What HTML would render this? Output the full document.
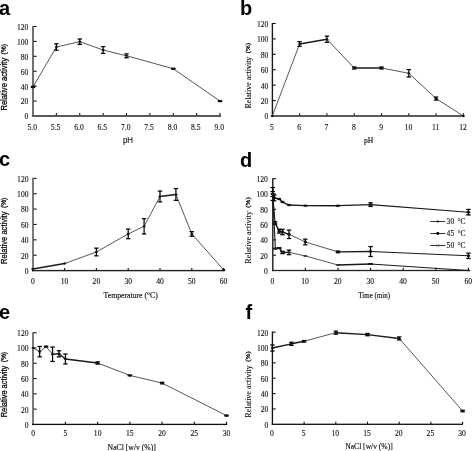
<!DOCTYPE html>
<html><head><meta charset="utf-8"><style>
html,body{margin:0;padding:0;background:#fff;}
svg{display:block;will-change:transform;}
</style></head><body>
<svg width="472" height="451" viewBox="0 0 472 451">
<rect width="472" height="451" fill="#fff"/>
<rect x="32" y="25.98" width="2" height="91.02" fill="#707070"/>
<rect x="32" y="115" width="189" height="2" fill="#5a5a5a"/>
<text x="28.3" y="119.4" font-family='"Liberation Serif", serif' font-size="7.6" font-weight="normal" text-anchor="end" fill="#111" stroke="#111" stroke-width="0.12">0</text>
<line x1="33.7" y1="101.08" x2="36.6" y2="101.08" stroke="#111" stroke-width="1.1" />
<text x="28.3" y="104.48" font-family='"Liberation Serif", serif' font-size="7.6" font-weight="normal" text-anchor="end" fill="#111" stroke="#111" stroke-width="0.12">20</text>
<line x1="33.7" y1="86.16" x2="36.6" y2="86.16" stroke="#111" stroke-width="1.1" />
<text x="28.3" y="89.56" font-family='"Liberation Serif", serif' font-size="7.6" font-weight="normal" text-anchor="end" fill="#111" stroke="#111" stroke-width="0.12">40</text>
<line x1="33.7" y1="71.24" x2="36.6" y2="71.24" stroke="#111" stroke-width="1.1" />
<text x="28.3" y="74.64" font-family='"Liberation Serif", serif' font-size="7.6" font-weight="normal" text-anchor="end" fill="#111" stroke="#111" stroke-width="0.12">60</text>
<line x1="33.7" y1="56.32" x2="36.6" y2="56.32" stroke="#111" stroke-width="1.1" />
<text x="28.3" y="59.72" font-family='"Liberation Serif", serif' font-size="7.6" font-weight="normal" text-anchor="end" fill="#111" stroke="#111" stroke-width="0.12">80</text>
<line x1="33.7" y1="41.4" x2="36.6" y2="41.4" stroke="#111" stroke-width="1.1" />
<text x="28.3" y="44.8" font-family='"Liberation Serif", serif' font-size="7.6" font-weight="normal" text-anchor="end" fill="#111" stroke="#111" stroke-width="0.12">100</text>
<line x1="33.7" y1="26.48" x2="36.6" y2="26.48" stroke="#111" stroke-width="1.1" />
<text x="28.3" y="29.88" font-family='"Liberation Serif", serif' font-size="7.6" font-weight="normal" text-anchor="end" fill="#111" stroke="#111" stroke-width="0.12">120</text>
<text x="32.2" y="129.9" font-family='"Liberation Serif", serif' font-size="7.6" font-weight="normal" text-anchor="middle" fill="#111" stroke="#111" stroke-width="0.12">5.0</text>
<line x1="56.38" y1="115.3" x2="56.38" y2="113" stroke="#111" stroke-width="1.1" />
<text x="55.58" y="129.9" font-family='"Liberation Serif", serif' font-size="7.6" font-weight="normal" text-anchor="middle" fill="#111" stroke="#111" stroke-width="0.12">5.5</text>
<line x1="79.75" y1="115.3" x2="79.75" y2="113" stroke="#111" stroke-width="1.1" />
<text x="78.95" y="129.9" font-family='"Liberation Serif", serif' font-size="7.6" font-weight="normal" text-anchor="middle" fill="#111" stroke="#111" stroke-width="0.12">6.0</text>
<line x1="103.12" y1="115.3" x2="103.12" y2="113" stroke="#111" stroke-width="1.1" />
<text x="102.33" y="129.9" font-family='"Liberation Serif", serif' font-size="7.6" font-weight="normal" text-anchor="middle" fill="#111" stroke="#111" stroke-width="0.12">6.5</text>
<line x1="126.5" y1="115.3" x2="126.5" y2="113" stroke="#111" stroke-width="1.1" />
<text x="125.7" y="129.9" font-family='"Liberation Serif", serif' font-size="7.6" font-weight="normal" text-anchor="middle" fill="#111" stroke="#111" stroke-width="0.12">7.0</text>
<line x1="149.88" y1="115.3" x2="149.88" y2="113" stroke="#111" stroke-width="1.1" />
<text x="149.07" y="129.9" font-family='"Liberation Serif", serif' font-size="7.6" font-weight="normal" text-anchor="middle" fill="#111" stroke="#111" stroke-width="0.12">7.5</text>
<line x1="173.25" y1="115.3" x2="173.25" y2="113" stroke="#111" stroke-width="1.1" />
<text x="172.45" y="129.9" font-family='"Liberation Serif", serif' font-size="7.6" font-weight="normal" text-anchor="middle" fill="#111" stroke="#111" stroke-width="0.12">8.0</text>
<line x1="196.62" y1="115.3" x2="196.62" y2="113" stroke="#111" stroke-width="1.1" />
<text x="195.82" y="129.9" font-family='"Liberation Serif", serif' font-size="7.6" font-weight="normal" text-anchor="middle" fill="#111" stroke="#111" stroke-width="0.12">8.5</text>
<line x1="220" y1="115.3" x2="220" y2="113" stroke="#111" stroke-width="1.1" />
<text x="219.2" y="129.9" font-family='"Liberation Serif", serif' font-size="7.6" font-weight="normal" text-anchor="middle" fill="#111" stroke="#111" stroke-width="0.12">9.0</text>
<line x1="33" y1="86.91" x2="56.38" y2="47" stroke="#444" stroke-width="0.9" stroke-linecap="round"/>
<line x1="56.38" y1="47" x2="79.75" y2="41.7" stroke="#444" stroke-width="0.9" stroke-linecap="round"/>
<line x1="79.75" y1="41.7" x2="103.12" y2="49.98" stroke="#444" stroke-width="0.9" stroke-linecap="round"/>
<line x1="103.12" y1="49.98" x2="126.5" y2="55.8" stroke="#444" stroke-width="0.9" stroke-linecap="round"/>
<line x1="126.5" y1="55.8" x2="173.25" y2="68.7" stroke="#444" stroke-width="0.9" stroke-linecap="round"/>
<line x1="173.25" y1="68.7" x2="220" y2="101.08" stroke="#444" stroke-width="0.9" stroke-linecap="round"/>
<line x1="33" y1="86.31" x2="33" y2="87.5" stroke="#000" stroke-width="1.25" />
<line x1="30.8" y1="86.31" x2="35.2" y2="86.31" stroke="#000" stroke-width="1.25" />
<line x1="30.8" y1="87.5" x2="35.2" y2="87.5" stroke="#000" stroke-width="1.25" />
<line x1="56.38" y1="43.79" x2="56.38" y2="50.2" stroke="#000" stroke-width="1.25" />
<line x1="54.17" y1="43.79" x2="58.58" y2="43.79" stroke="#000" stroke-width="1.25" />
<line x1="54.17" y1="50.2" x2="58.58" y2="50.2" stroke="#000" stroke-width="1.25" />
<line x1="79.75" y1="39.01" x2="79.75" y2="44.38" stroke="#000" stroke-width="1.25" />
<line x1="77.55" y1="39.01" x2="81.95" y2="39.01" stroke="#000" stroke-width="1.25" />
<line x1="77.55" y1="44.38" x2="81.95" y2="44.38" stroke="#000" stroke-width="1.25" />
<line x1="103.12" y1="46.62" x2="103.12" y2="53.34" stroke="#000" stroke-width="1.25" />
<line x1="100.92" y1="46.62" x2="105.33" y2="46.62" stroke="#000" stroke-width="1.25" />
<line x1="100.92" y1="53.34" x2="105.33" y2="53.34" stroke="#000" stroke-width="1.25" />
<line x1="126.5" y1="53.86" x2="126.5" y2="57.74" stroke="#000" stroke-width="1.25" />
<line x1="124.3" y1="53.86" x2="128.7" y2="53.86" stroke="#000" stroke-width="1.25" />
<line x1="124.3" y1="57.74" x2="128.7" y2="57.74" stroke="#000" stroke-width="1.25" />
<line x1="173.25" y1="68.33" x2="173.25" y2="69.08" stroke="#000" stroke-width="1.25" />
<line x1="171.05" y1="68.33" x2="175.45" y2="68.33" stroke="#000" stroke-width="1.25" />
<line x1="171.05" y1="69.08" x2="175.45" y2="69.08" stroke="#000" stroke-width="1.25" />
<line x1="220" y1="100.71" x2="220" y2="101.45" stroke="#000" stroke-width="1.25" />
<line x1="217.8" y1="100.71" x2="222.2" y2="100.71" stroke="#000" stroke-width="1.25" />
<line x1="217.8" y1="101.45" x2="222.2" y2="101.45" stroke="#000" stroke-width="1.25" />
<path d="M31 86.91L33 85.61L35 86.91L33 88.21Z" fill="#111"/>
<path d="M54.38 47L56.38 45.7L58.38 47L56.38 48.3Z" fill="#111"/>
<path d="M77.75 41.7L79.75 40.4L81.75 41.7L79.75 43Z" fill="#111"/>
<path d="M101.12 49.98L103.12 48.68L105.12 49.98L103.12 51.28Z" fill="#111"/>
<path d="M124.5 55.8L126.5 54.5L128.5 55.8L126.5 57.1Z" fill="#111"/>
<path d="M171.25 68.7L173.25 67.4L175.25 68.7L173.25 70Z" fill="#111"/>
<path d="M218 101.08L220 99.78L222 101.08L220 102.38Z" fill="#111"/>
<g transform="translate(6.8,0) rotate(-90)" font-family='"Liberation Sans", sans-serif' fill="#000" stroke="#000" stroke-width="0.25"><text x="-110.6" y="0" font-size="8.8" textLength="52.8" lengthAdjust="spacingAndGlyphs">Relative activity</text><text x="-54.4" y="-0.9" font-size="6.4" stroke-width="0.25" textLength="10.4" lengthAdjust="spacingAndGlyphs">(%)</text></g>
<text x="128" y="143.1" font-family='"Liberation Sans", sans-serif' font-size="9.4" font-weight="normal" text-anchor="middle" fill="#111" textLength="10" lengthAdjust="spacingAndGlyphs" stroke="#111" stroke-width="0.15">pH</text>
<text x="-1" y="14.9" font-family='"Liberation Sans", sans-serif' font-size="20" font-weight="bold" text-anchor="start" fill="#000" >a</text>
<rect x="271.7" y="22.98" width="1.4" height="93.82" fill="#1a1a1a"/>
<rect x="271.7" y="115.2" width="192.3" height="1.6" fill="#333"/>
<text x="268.3" y="119.4" font-family='"Liberation Serif", serif' font-size="7.6" font-weight="normal" text-anchor="end" fill="#111" stroke="#111" stroke-width="0.12">0</text>
<line x1="272.8" y1="100.58" x2="275.7" y2="100.58" stroke="#111" stroke-width="1.1" />
<text x="268.3" y="103.98" font-family='"Liberation Serif", serif' font-size="7.6" font-weight="normal" text-anchor="end" fill="#111" stroke="#111" stroke-width="0.12">20</text>
<line x1="272.8" y1="85.16" x2="275.7" y2="85.16" stroke="#111" stroke-width="1.1" />
<text x="268.3" y="88.56" font-family='"Liberation Serif", serif' font-size="7.6" font-weight="normal" text-anchor="end" fill="#111" stroke="#111" stroke-width="0.12">40</text>
<line x1="272.8" y1="69.74" x2="275.7" y2="69.74" stroke="#111" stroke-width="1.1" />
<text x="268.3" y="73.14" font-family='"Liberation Serif", serif' font-size="7.6" font-weight="normal" text-anchor="end" fill="#111" stroke="#111" stroke-width="0.12">60</text>
<line x1="272.8" y1="54.32" x2="275.7" y2="54.32" stroke="#111" stroke-width="1.1" />
<text x="268.3" y="57.72" font-family='"Liberation Serif", serif' font-size="7.6" font-weight="normal" text-anchor="end" fill="#111" stroke="#111" stroke-width="0.12">80</text>
<line x1="272.8" y1="38.9" x2="275.7" y2="38.9" stroke="#111" stroke-width="1.1" />
<text x="268.3" y="42.3" font-family='"Liberation Serif", serif' font-size="7.6" font-weight="normal" text-anchor="end" fill="#111" stroke="#111" stroke-width="0.12">100</text>
<line x1="272.8" y1="23.48" x2="275.7" y2="23.48" stroke="#111" stroke-width="1.1" />
<text x="268.3" y="26.88" font-family='"Liberation Serif", serif' font-size="7.6" font-weight="normal" text-anchor="end" fill="#111" stroke="#111" stroke-width="0.12">120</text>
<text x="271.9" y="129.6" font-family='"Liberation Serif", serif' font-size="7.6" font-weight="normal" text-anchor="middle" fill="#111" stroke="#111" stroke-width="0.12">5</text>
<line x1="299.6" y1="115.5" x2="299.6" y2="113.2" stroke="#111" stroke-width="1.1" />
<text x="299.2" y="129.6" font-family='"Liberation Serif", serif' font-size="7.6" font-weight="normal" text-anchor="middle" fill="#111" stroke="#111" stroke-width="0.12">6</text>
<line x1="326.9" y1="115.5" x2="326.9" y2="113.2" stroke="#111" stroke-width="1.1" />
<text x="326.5" y="129.6" font-family='"Liberation Serif", serif' font-size="7.6" font-weight="normal" text-anchor="middle" fill="#111" stroke="#111" stroke-width="0.12">7</text>
<line x1="354.2" y1="115.5" x2="354.2" y2="113.2" stroke="#111" stroke-width="1.1" />
<text x="353.8" y="129.6" font-family='"Liberation Serif", serif' font-size="7.6" font-weight="normal" text-anchor="middle" fill="#111" stroke="#111" stroke-width="0.12">8</text>
<line x1="381.5" y1="115.5" x2="381.5" y2="113.2" stroke="#111" stroke-width="1.1" />
<text x="381.1" y="129.6" font-family='"Liberation Serif", serif' font-size="7.6" font-weight="normal" text-anchor="middle" fill="#111" stroke="#111" stroke-width="0.12">9</text>
<line x1="408.8" y1="115.5" x2="408.8" y2="113.2" stroke="#111" stroke-width="1.1" />
<text x="408.4" y="129.6" font-family='"Liberation Serif", serif' font-size="7.6" font-weight="normal" text-anchor="middle" fill="#111" stroke="#111" stroke-width="0.12">10</text>
<line x1="436.1" y1="115.5" x2="436.1" y2="113.2" stroke="#111" stroke-width="1.1" />
<text x="435.7" y="129.6" font-family='"Liberation Serif", serif' font-size="7.6" font-weight="normal" text-anchor="middle" fill="#111" stroke="#111" stroke-width="0.12">11</text>
<line x1="463.4" y1="115.5" x2="463.4" y2="113.2" stroke="#111" stroke-width="1.1" />
<text x="463" y="129.6" font-family='"Liberation Serif", serif' font-size="7.6" font-weight="normal" text-anchor="middle" fill="#111" stroke="#111" stroke-width="0.12">12</text>
<line x1="272.3" y1="116" x2="299.6" y2="43.99" stroke="#444" stroke-width="0.9" stroke-linecap="round"/>
<line x1="299.6" y1="43.99" x2="326.9" y2="39.21" stroke="#1a1a1a" stroke-width="1.4" stroke-linecap="round"/>
<line x1="326.9" y1="39.21" x2="354.2" y2="67.97" stroke="#444" stroke-width="0.9" stroke-linecap="round"/>
<line x1="354.2" y1="67.97" x2="381.5" y2="67.97" stroke="#1a1a1a" stroke-width="1.4" stroke-linecap="round"/>
<line x1="381.5" y1="67.97" x2="408.8" y2="73.29" stroke="#444" stroke-width="0.9" stroke-linecap="round"/>
<line x1="408.8" y1="73.29" x2="436.1" y2="98.58" stroke="#444" stroke-width="0.9" stroke-linecap="round"/>
<line x1="436.1" y1="98.58" x2="463.4" y2="116" stroke="#444" stroke-width="0.9" stroke-linecap="round"/>
<line x1="299.6" y1="41.68" x2="299.6" y2="46.3" stroke="#000" stroke-width="1.25" />
<line x1="297.4" y1="41.68" x2="301.8" y2="41.68" stroke="#000" stroke-width="1.25" />
<line x1="297.4" y1="46.3" x2="301.8" y2="46.3" stroke="#000" stroke-width="1.25" />
<line x1="326.9" y1="36.12" x2="326.9" y2="42.29" stroke="#000" stroke-width="1.25" />
<line x1="324.7" y1="36.12" x2="329.1" y2="36.12" stroke="#000" stroke-width="1.25" />
<line x1="324.7" y1="42.29" x2="329.1" y2="42.29" stroke="#000" stroke-width="1.25" />
<line x1="354.2" y1="66.96" x2="354.2" y2="68.97" stroke="#000" stroke-width="1.25" />
<line x1="352" y1="66.96" x2="356.4" y2="66.96" stroke="#000" stroke-width="1.25" />
<line x1="352" y1="68.97" x2="356.4" y2="68.97" stroke="#000" stroke-width="1.25" />
<line x1="381.5" y1="66.96" x2="381.5" y2="68.97" stroke="#000" stroke-width="1.25" />
<line x1="379.3" y1="66.96" x2="383.7" y2="66.96" stroke="#000" stroke-width="1.25" />
<line x1="379.3" y1="68.97" x2="383.7" y2="68.97" stroke="#000" stroke-width="1.25" />
<line x1="408.8" y1="69.59" x2="408.8" y2="76.99" stroke="#000" stroke-width="1.25" />
<line x1="406.6" y1="69.59" x2="411" y2="69.59" stroke="#000" stroke-width="1.25" />
<line x1="406.6" y1="76.99" x2="411" y2="76.99" stroke="#000" stroke-width="1.25" />
<line x1="436.1" y1="97.03" x2="436.1" y2="100.12" stroke="#000" stroke-width="1.25" />
<line x1="433.9" y1="97.03" x2="438.3" y2="97.03" stroke="#000" stroke-width="1.25" />
<line x1="433.9" y1="100.12" x2="438.3" y2="100.12" stroke="#000" stroke-width="1.25" />
<path d="M270.3 116L272.3 114.7L274.3 116L272.3 117.3Z" fill="#111"/>
<path d="M297.6 43.99L299.6 42.69L301.6 43.99L299.6 45.29Z" fill="#111"/>
<path d="M324.9 39.21L326.9 37.91L328.9 39.21L326.9 40.51Z" fill="#111"/>
<path d="M352.2 67.97L354.2 66.67L356.2 67.97L354.2 69.27Z" fill="#111"/>
<path d="M379.5 67.97L381.5 66.67L383.5 67.97L381.5 69.27Z" fill="#111"/>
<path d="M406.8 73.29L408.8 71.99L410.8 73.29L408.8 74.59Z" fill="#111"/>
<path d="M434.1 98.58L436.1 97.28L438.1 98.58L436.1 99.88Z" fill="#111"/>
<path d="M461.4 116L463.4 114.7L465.4 116L463.4 117.3Z" fill="#111"/>
<g transform="translate(250.8,0) rotate(-90)" font-family='"Liberation Serif", serif' fill="#000" stroke="#000" stroke-width="0.05"><text x="-108.6" y="0" font-size="7.6" textLength="51.9" lengthAdjust="spacingAndGlyphs">Relative activity</text><text x="-53.3" y="-0.9" font-size="6.4" stroke-width="0.25" textLength="10.4" lengthAdjust="spacingAndGlyphs">(%)</text></g>
<text x="368.65" y="143.3" font-family='"Liberation Serif", serif' font-size="8" font-weight="normal" text-anchor="middle" fill="#111" textLength="9.3" lengthAdjust="spacingAndGlyphs" stroke="#111" stroke-width="0.15">pH</text>
<text x="240" y="14.6" font-family='"Liberation Sans", sans-serif' font-size="20" font-weight="bold" text-anchor="start" fill="#000" >b</text>
<rect x="32" y="177.82" width="2" height="93.48" fill="#7a7a7a"/>
<rect x="32" y="269.9" width="193" height="1.4" fill="#222"/>
<text x="28.5" y="274" font-family='"Liberation Serif", serif' font-size="7.6" font-weight="normal" text-anchor="end" fill="#111" stroke="#111" stroke-width="0.12">0</text>
<line x1="33.7" y1="255.22" x2="36.6" y2="255.22" stroke="#111" stroke-width="1.1" />
<text x="28.5" y="258.62" font-family='"Liberation Serif", serif' font-size="7.6" font-weight="normal" text-anchor="end" fill="#111" stroke="#111" stroke-width="0.12">20</text>
<line x1="33.7" y1="239.84" x2="36.6" y2="239.84" stroke="#111" stroke-width="1.1" />
<text x="28.5" y="243.24" font-family='"Liberation Serif", serif' font-size="7.6" font-weight="normal" text-anchor="end" fill="#111" stroke="#111" stroke-width="0.12">40</text>
<line x1="33.7" y1="224.46" x2="36.6" y2="224.46" stroke="#111" stroke-width="1.1" />
<text x="28.5" y="227.86" font-family='"Liberation Serif", serif' font-size="7.6" font-weight="normal" text-anchor="end" fill="#111" stroke="#111" stroke-width="0.12">60</text>
<line x1="33.7" y1="209.08" x2="36.6" y2="209.08" stroke="#111" stroke-width="1.1" />
<text x="28.5" y="212.48" font-family='"Liberation Serif", serif' font-size="7.6" font-weight="normal" text-anchor="end" fill="#111" stroke="#111" stroke-width="0.12">80</text>
<line x1="33.7" y1="193.7" x2="36.6" y2="193.7" stroke="#111" stroke-width="1.1" />
<text x="28.5" y="197.1" font-family='"Liberation Serif", serif' font-size="7.6" font-weight="normal" text-anchor="end" fill="#111" stroke="#111" stroke-width="0.12">100</text>
<line x1="33.7" y1="178.32" x2="36.6" y2="178.32" stroke="#111" stroke-width="1.1" />
<text x="28.5" y="181.72" font-family='"Liberation Serif", serif' font-size="7.6" font-weight="normal" text-anchor="end" fill="#111" stroke="#111" stroke-width="0.12">120</text>
<text x="32.8" y="284.2" font-family='"Liberation Serif", serif' font-size="7.6" font-weight="normal" text-anchor="middle" fill="#111" stroke="#111" stroke-width="0.12">0</text>
<line x1="64.6" y1="270.2" x2="64.6" y2="267.9" stroke="#111" stroke-width="1.1" />
<text x="64.6" y="284.2" font-family='"Liberation Serif", serif' font-size="7.6" font-weight="normal" text-anchor="middle" fill="#111" stroke="#111" stroke-width="0.12">10</text>
<line x1="96.4" y1="270.2" x2="96.4" y2="267.9" stroke="#111" stroke-width="1.1" />
<text x="96.4" y="284.2" font-family='"Liberation Serif", serif' font-size="7.6" font-weight="normal" text-anchor="middle" fill="#111" stroke="#111" stroke-width="0.12">20</text>
<line x1="128.2" y1="270.2" x2="128.2" y2="267.9" stroke="#111" stroke-width="1.1" />
<text x="128.2" y="284.2" font-family='"Liberation Serif", serif' font-size="7.6" font-weight="normal" text-anchor="middle" fill="#111" stroke="#111" stroke-width="0.12">30</text>
<line x1="160" y1="270.2" x2="160" y2="267.9" stroke="#111" stroke-width="1.1" />
<text x="160" y="284.2" font-family='"Liberation Serif", serif' font-size="7.6" font-weight="normal" text-anchor="middle" fill="#111" stroke="#111" stroke-width="0.12">40</text>
<line x1="191.8" y1="270.2" x2="191.8" y2="267.9" stroke="#111" stroke-width="1.1" />
<text x="191.8" y="284.2" font-family='"Liberation Serif", serif' font-size="7.6" font-weight="normal" text-anchor="middle" fill="#111" stroke="#111" stroke-width="0.12">50</text>
<line x1="223.6" y1="270.2" x2="223.6" y2="267.9" stroke="#111" stroke-width="1.1" />
<text x="223.6" y="284.2" font-family='"Liberation Serif", serif' font-size="7.6" font-weight="normal" text-anchor="middle" fill="#111" stroke="#111" stroke-width="0.12">60</text>
<line x1="32.8" y1="269.06" x2="64.6" y2="263.53" stroke="#1a1a1a" stroke-width="1.4" stroke-linecap="round"/>
<line x1="64.6" y1="263.53" x2="96.4" y2="251.99" stroke="#444" stroke-width="0.9" stroke-linecap="round"/>
<line x1="96.4" y1="251.99" x2="128.2" y2="233.92" stroke="#444" stroke-width="0.9" stroke-linecap="round"/>
<line x1="128.2" y1="233.92" x2="144.1" y2="226.31" stroke="#444" stroke-width="0.9" stroke-linecap="round"/>
<line x1="144.1" y1="226.31" x2="160" y2="196.47" stroke="#444" stroke-width="0.9" stroke-linecap="round"/>
<line x1="160" y1="196.47" x2="175.9" y2="194.47" stroke="#1a1a1a" stroke-width="1.4" stroke-linecap="round"/>
<line x1="175.9" y1="194.47" x2="191.8" y2="233.92" stroke="#444" stroke-width="0.9" stroke-linecap="round"/>
<line x1="191.8" y1="233.92" x2="223.6" y2="269.83" stroke="#444" stroke-width="0.9" stroke-linecap="round"/>
<line x1="96.4" y1="248.15" x2="96.4" y2="255.84" stroke="#000" stroke-width="1.25" />
<line x1="94.2" y1="248.15" x2="98.6" y2="248.15" stroke="#000" stroke-width="1.25" />
<line x1="94.2" y1="255.84" x2="98.6" y2="255.84" stroke="#000" stroke-width="1.25" />
<line x1="128.2" y1="229.15" x2="128.2" y2="238.69" stroke="#000" stroke-width="1.25" />
<line x1="126" y1="229.15" x2="130.4" y2="229.15" stroke="#000" stroke-width="1.25" />
<line x1="126" y1="238.69" x2="130.4" y2="238.69" stroke="#000" stroke-width="1.25" />
<line x1="144.1" y1="218.62" x2="144.1" y2="234" stroke="#000" stroke-width="1.25" />
<line x1="141.9" y1="218.62" x2="146.3" y2="218.62" stroke="#000" stroke-width="1.25" />
<line x1="141.9" y1="234" x2="146.3" y2="234" stroke="#000" stroke-width="1.25" />
<line x1="160" y1="191.09" x2="160" y2="201.85" stroke="#000" stroke-width="1.25" />
<line x1="157.8" y1="191.09" x2="162.2" y2="191.09" stroke="#000" stroke-width="1.25" />
<line x1="157.8" y1="201.85" x2="162.2" y2="201.85" stroke="#000" stroke-width="1.25" />
<line x1="175.9" y1="188.55" x2="175.9" y2="200.39" stroke="#000" stroke-width="1.25" />
<line x1="173.7" y1="188.55" x2="178.1" y2="188.55" stroke="#000" stroke-width="1.25" />
<line x1="173.7" y1="200.39" x2="178.1" y2="200.39" stroke="#000" stroke-width="1.25" />
<line x1="191.8" y1="231.61" x2="191.8" y2="236.23" stroke="#000" stroke-width="1.25" />
<line x1="189.6" y1="231.61" x2="194" y2="231.61" stroke="#000" stroke-width="1.25" />
<line x1="189.6" y1="236.23" x2="194" y2="236.23" stroke="#000" stroke-width="1.25" />
<path d="M30.8 269.06L32.8 267.76L34.8 269.06L32.8 270.36Z" fill="#111"/>
<path d="M62.6 263.53L64.6 262.23L66.6 263.53L64.6 264.83Z" fill="#111"/>
<path d="M94.4 251.99L96.4 250.69L98.4 251.99L96.4 253.29Z" fill="#111"/>
<path d="M126.2 233.92L128.2 232.62L130.2 233.92L128.2 235.22Z" fill="#111"/>
<path d="M142.1 226.31L144.1 225.01L146.1 226.31L144.1 227.61Z" fill="#111"/>
<path d="M158 196.47L160 195.17L162 196.47L160 197.77Z" fill="#111"/>
<path d="M173.9 194.47L175.9 193.17L177.9 194.47L175.9 195.77Z" fill="#111"/>
<path d="M189.8 233.92L191.8 232.62L193.8 233.92L191.8 235.22Z" fill="#111"/>
<path d="M221.6 269.83L223.6 268.53L225.6 269.83L223.6 271.13Z" fill="#111"/>
<g transform="translate(6.8,0) rotate(-90)" font-family='"Liberation Sans", sans-serif' fill="#000" stroke="#000" stroke-width="0.25"><text x="-264" y="0" font-size="8.8" textLength="52.5" lengthAdjust="spacingAndGlyphs">Relative activity</text><text x="-208.1" y="-0.9" font-size="6.4" stroke-width="0.25" textLength="10.4" lengthAdjust="spacingAndGlyphs">(%)</text></g>
<text x="130.7" y="298.3" font-family='"Liberation Serif", serif' font-size="8" font-weight="normal" text-anchor="middle" fill="#111" textLength="54.2" lengthAdjust="spacingAndGlyphs" stroke="#111" stroke-width="0.15">Temperature (°C)</text>
<text x="-1" y="166.4" font-family='"Liberation Sans", sans-serif' font-size="20" font-weight="bold" text-anchor="start" fill="#000" >c</text>
<rect x="272.1" y="178.2" width="1.4" height="92.95" fill="#1a1a1a"/>
<rect x="272.1" y="269.85" width="196.9" height="1.3" fill="#222"/>
<text x="267.9" y="273.9" font-family='"Liberation Serif", serif' font-size="7.6" font-weight="normal" text-anchor="end" fill="#111" stroke="#111" stroke-width="0.12">0</text>
<line x1="273.2" y1="255.2" x2="276.1" y2="255.2" stroke="#111" stroke-width="1.1" />
<text x="267.9" y="258.6" font-family='"Liberation Serif", serif' font-size="7.6" font-weight="normal" text-anchor="end" fill="#111" stroke="#111" stroke-width="0.12">20</text>
<line x1="273.2" y1="239.9" x2="276.1" y2="239.9" stroke="#111" stroke-width="1.1" />
<text x="267.9" y="243.3" font-family='"Liberation Serif", serif' font-size="7.6" font-weight="normal" text-anchor="end" fill="#111" stroke="#111" stroke-width="0.12">40</text>
<line x1="273.2" y1="224.6" x2="276.1" y2="224.6" stroke="#111" stroke-width="1.1" />
<text x="267.9" y="228" font-family='"Liberation Serif", serif' font-size="7.6" font-weight="normal" text-anchor="end" fill="#111" stroke="#111" stroke-width="0.12">60</text>
<line x1="273.2" y1="209.3" x2="276.1" y2="209.3" stroke="#111" stroke-width="1.1" />
<text x="267.9" y="212.7" font-family='"Liberation Serif", serif' font-size="7.6" font-weight="normal" text-anchor="end" fill="#111" stroke="#111" stroke-width="0.12">80</text>
<line x1="273.2" y1="194" x2="276.1" y2="194" stroke="#111" stroke-width="1.1" />
<text x="267.9" y="197.4" font-family='"Liberation Serif", serif' font-size="7.6" font-weight="normal" text-anchor="end" fill="#111" stroke="#111" stroke-width="0.12">100</text>
<line x1="273.2" y1="178.7" x2="276.1" y2="178.7" stroke="#111" stroke-width="1.1" />
<text x="267.9" y="182.1" font-family='"Liberation Serif", serif' font-size="7.6" font-weight="normal" text-anchor="end" fill="#111" stroke="#111" stroke-width="0.12">120</text>
<text x="272.5" y="284" font-family='"Liberation Serif", serif' font-size="7.6" font-weight="normal" text-anchor="middle" fill="#111" stroke="#111" stroke-width="0.12">0</text>
<line x1="305.32" y1="270.15" x2="305.32" y2="267.85" stroke="#111" stroke-width="1.1" />
<text x="305.12" y="284" font-family='"Liberation Serif", serif' font-size="7.6" font-weight="normal" text-anchor="middle" fill="#111" stroke="#111" stroke-width="0.12">10</text>
<line x1="337.94" y1="270.15" x2="337.94" y2="267.85" stroke="#111" stroke-width="1.1" />
<text x="337.74" y="284" font-family='"Liberation Serif", serif' font-size="7.6" font-weight="normal" text-anchor="middle" fill="#111" stroke="#111" stroke-width="0.12">20</text>
<line x1="370.56" y1="270.15" x2="370.56" y2="267.85" stroke="#111" stroke-width="1.1" />
<text x="370.36" y="284" font-family='"Liberation Serif", serif' font-size="7.6" font-weight="normal" text-anchor="middle" fill="#111" stroke="#111" stroke-width="0.12">30</text>
<line x1="403.18" y1="270.15" x2="403.18" y2="267.85" stroke="#111" stroke-width="1.1" />
<text x="402.98" y="284" font-family='"Liberation Serif", serif' font-size="7.6" font-weight="normal" text-anchor="middle" fill="#111" stroke="#111" stroke-width="0.12">40</text>
<line x1="435.8" y1="270.15" x2="435.8" y2="267.85" stroke="#111" stroke-width="1.1" />
<text x="435.6" y="284" font-family='"Liberation Serif", serif' font-size="7.6" font-weight="normal" text-anchor="middle" fill="#111" stroke="#111" stroke-width="0.12">50</text>
<line x1="468.42" y1="270.15" x2="468.42" y2="267.85" stroke="#111" stroke-width="1.1" />
<text x="468.22" y="284" font-family='"Liberation Serif", serif' font-size="7.6" font-weight="normal" text-anchor="middle" fill="#111" stroke="#111" stroke-width="0.12">60</text>
<line x1="272.7" y1="194" x2="274.17" y2="197.98" stroke="#444" stroke-width="0.9" stroke-linecap="round"/>
<line x1="274.17" y1="197.98" x2="279.22" y2="198.97" stroke="#1a1a1a" stroke-width="1.4" stroke-linecap="round"/>
<line x1="279.22" y1="198.97" x2="282.49" y2="202.03" stroke="#1a1a1a" stroke-width="1.4" stroke-linecap="round"/>
<line x1="282.49" y1="202.03" x2="289.01" y2="205.02" stroke="#1a1a1a" stroke-width="1.4" stroke-linecap="round"/>
<line x1="289.01" y1="205.02" x2="305.32" y2="205.63" stroke="#1a1a1a" stroke-width="1.4" stroke-linecap="round"/>
<line x1="305.32" y1="205.63" x2="337.94" y2="205.7" stroke="#1a1a1a" stroke-width="1.4" stroke-linecap="round"/>
<line x1="337.94" y1="205.7" x2="370.56" y2="204.63" stroke="#1a1a1a" stroke-width="1.3" stroke-linecap="round"/>
<line x1="370.56" y1="204.63" x2="468.42" y2="212.21" stroke="#1a1a1a" stroke-width="1.1" stroke-linecap="round"/>
<line x1="272.7" y1="187.57" x2="272.7" y2="200.43" stroke="#000" stroke-width="1.25" />
<line x1="270.5" y1="187.57" x2="274.9" y2="187.57" stroke="#000" stroke-width="1.25" />
<line x1="270.5" y1="200.43" x2="274.9" y2="200.43" stroke="#000" stroke-width="1.25" />
<line x1="274.17" y1="195.15" x2="274.17" y2="200.81" stroke="#000" stroke-width="1.25" />
<line x1="271.97" y1="195.15" x2="276.37" y2="195.15" stroke="#000" stroke-width="1.25" />
<line x1="271.97" y1="200.81" x2="276.37" y2="200.81" stroke="#000" stroke-width="1.25" />
<line x1="370.56" y1="202.8" x2="370.56" y2="206.47" stroke="#000" stroke-width="1.25" />
<line x1="368.36" y1="202.8" x2="372.76" y2="202.8" stroke="#000" stroke-width="1.25" />
<line x1="368.36" y1="206.47" x2="372.76" y2="206.47" stroke="#000" stroke-width="1.25" />
<line x1="468.42" y1="209.45" x2="468.42" y2="214.96" stroke="#000" stroke-width="1.25" />
<line x1="466.22" y1="209.45" x2="470.62" y2="209.45" stroke="#000" stroke-width="1.25" />
<line x1="466.22" y1="214.96" x2="470.62" y2="214.96" stroke="#000" stroke-width="1.25" />
<ellipse cx="272.7" cy="194" rx="2.1" ry="1.2" fill="#111"/>
<ellipse cx="274.17" cy="197.98" rx="2.1" ry="1.2" fill="#111"/>
<ellipse cx="279.22" cy="198.97" rx="2.1" ry="1.2" fill="#111"/>
<ellipse cx="282.49" cy="202.03" rx="2.1" ry="1.2" fill="#111"/>
<ellipse cx="289.01" cy="205.02" rx="2.1" ry="1.2" fill="#111"/>
<ellipse cx="305.32" cy="205.63" rx="2.1" ry="1.2" fill="#111"/>
<ellipse cx="337.94" cy="205.7" rx="2.1" ry="1.2" fill="#111"/>
<ellipse cx="370.56" cy="204.63" rx="2.1" ry="1.2" fill="#111"/>
<ellipse cx="468.42" cy="212.21" rx="2.1" ry="1.2" fill="#111"/>
<line x1="272.7" y1="194" x2="275.05" y2="222.92" stroke="#1a1a1a" stroke-width="1.1" stroke-linecap="round"/>
<line x1="275.05" y1="222.92" x2="279.22" y2="231.18" stroke="#1a1a1a" stroke-width="1.4" stroke-linecap="round"/>
<line x1="279.22" y1="231.18" x2="282.49" y2="232.02" stroke="#1a1a1a" stroke-width="1.4" stroke-linecap="round"/>
<line x1="282.49" y1="232.02" x2="289.01" y2="234.32" stroke="#1a1a1a" stroke-width="1.4" stroke-linecap="round"/>
<line x1="289.01" y1="234.32" x2="305.32" y2="241.97" stroke="#444" stroke-width="0.9" stroke-linecap="round"/>
<line x1="305.32" y1="241.97" x2="337.94" y2="251.91" stroke="#444" stroke-width="0.9" stroke-linecap="round"/>
<line x1="337.94" y1="251.91" x2="370.56" y2="251.53" stroke="#1a1a1a" stroke-width="1.4" stroke-linecap="round"/>
<line x1="370.56" y1="251.53" x2="468.42" y2="255.81" stroke="#1a1a1a" stroke-width="1.1" stroke-linecap="round"/>
<line x1="272.7" y1="191.48" x2="272.7" y2="196.52" stroke="#000" stroke-width="1.25" />
<line x1="270.5" y1="191.48" x2="274.9" y2="191.48" stroke="#000" stroke-width="1.25" />
<line x1="270.5" y1="196.52" x2="274.9" y2="196.52" stroke="#000" stroke-width="1.25" />
<line x1="275.05" y1="221.77" x2="275.05" y2="224.06" stroke="#000" stroke-width="1.25" />
<line x1="272.85" y1="221.77" x2="277.25" y2="221.77" stroke="#000" stroke-width="1.25" />
<line x1="272.85" y1="224.06" x2="277.25" y2="224.06" stroke="#000" stroke-width="1.25" />
<line x1="279.22" y1="229.27" x2="279.22" y2="233.09" stroke="#000" stroke-width="1.25" />
<line x1="277.02" y1="229.27" x2="281.42" y2="229.27" stroke="#000" stroke-width="1.25" />
<line x1="277.02" y1="233.09" x2="281.42" y2="233.09" stroke="#000" stroke-width="1.25" />
<line x1="282.49" y1="229.34" x2="282.49" y2="234.7" stroke="#000" stroke-width="1.25" />
<line x1="280.29" y1="229.34" x2="284.69" y2="229.34" stroke="#000" stroke-width="1.25" />
<line x1="280.29" y1="234.7" x2="284.69" y2="234.7" stroke="#000" stroke-width="1.25" />
<line x1="289.01" y1="230.11" x2="289.01" y2="238.52" stroke="#000" stroke-width="1.25" />
<line x1="286.81" y1="230.11" x2="291.21" y2="230.11" stroke="#000" stroke-width="1.25" />
<line x1="286.81" y1="238.52" x2="291.21" y2="238.52" stroke="#000" stroke-width="1.25" />
<line x1="305.32" y1="239.13" x2="305.32" y2="244.8" stroke="#000" stroke-width="1.25" />
<line x1="303.12" y1="239.13" x2="307.52" y2="239.13" stroke="#000" stroke-width="1.25" />
<line x1="303.12" y1="244.8" x2="307.52" y2="244.8" stroke="#000" stroke-width="1.25" />
<line x1="337.94" y1="251.15" x2="337.94" y2="252.68" stroke="#000" stroke-width="1.25" />
<line x1="335.74" y1="251.15" x2="340.14" y2="251.15" stroke="#000" stroke-width="1.25" />
<line x1="335.74" y1="252.68" x2="340.14" y2="252.68" stroke="#000" stroke-width="1.25" />
<line x1="370.56" y1="246.56" x2="370.56" y2="256.5" stroke="#000" stroke-width="1.25" />
<line x1="368.36" y1="246.56" x2="372.76" y2="246.56" stroke="#000" stroke-width="1.25" />
<line x1="368.36" y1="256.5" x2="372.76" y2="256.5" stroke="#000" stroke-width="1.25" />
<line x1="468.42" y1="253.13" x2="468.42" y2="258.49" stroke="#000" stroke-width="1.25" />
<line x1="466.22" y1="253.13" x2="470.62" y2="253.13" stroke="#000" stroke-width="1.25" />
<line x1="466.22" y1="258.49" x2="470.62" y2="258.49" stroke="#000" stroke-width="1.25" />
<ellipse cx="272.7" cy="194" rx="1.7" ry="1.4" fill="#111"/>
<ellipse cx="275.05" cy="222.92" rx="1.7" ry="1.4" fill="#111"/>
<ellipse cx="279.22" cy="231.18" rx="1.7" ry="1.4" fill="#111"/>
<ellipse cx="282.49" cy="232.02" rx="1.7" ry="1.4" fill="#111"/>
<ellipse cx="289.01" cy="234.32" rx="1.7" ry="1.4" fill="#111"/>
<ellipse cx="305.32" cy="241.97" rx="1.7" ry="1.4" fill="#111"/>
<ellipse cx="337.94" cy="251.91" rx="1.7" ry="1.4" fill="#111"/>
<ellipse cx="370.56" cy="251.53" rx="1.7" ry="1.4" fill="#111"/>
<ellipse cx="468.42" cy="255.81" rx="1.7" ry="1.4" fill="#111"/>
<line x1="272.7" y1="194" x2="275.37" y2="248.62" stroke="#1a1a1a" stroke-width="1.1" stroke-linecap="round"/>
<line x1="275.37" y1="248.62" x2="279.22" y2="248.01" stroke="#1a1a1a" stroke-width="1.4" stroke-linecap="round"/>
<line x1="279.22" y1="248.01" x2="282.49" y2="252.52" stroke="#1a1a1a" stroke-width="1.4" stroke-linecap="round"/>
<line x1="282.49" y1="252.52" x2="289.01" y2="252.37" stroke="#1a1a1a" stroke-width="1.4" stroke-linecap="round"/>
<line x1="289.01" y1="252.37" x2="305.32" y2="255.97" stroke="#444" stroke-width="0.9" stroke-linecap="round"/>
<line x1="305.32" y1="255.97" x2="337.94" y2="264.99" stroke="#444" stroke-width="0.9" stroke-linecap="round"/>
<line x1="337.94" y1="264.99" x2="370.56" y2="264" stroke="#1a1a1a" stroke-width="1.4" stroke-linecap="round"/>
<line x1="370.56" y1="264" x2="468.42" y2="270.5" stroke="#1a1a1a" stroke-width="1.1" stroke-linecap="round"/>
<line x1="275.37" y1="248.24" x2="275.37" y2="249" stroke="#000" stroke-width="1.25" />
<line x1="273.17" y1="248.24" x2="277.57" y2="248.24" stroke="#000" stroke-width="1.25" />
<line x1="273.17" y1="249" x2="277.57" y2="249" stroke="#000" stroke-width="1.25" />
<line x1="279.22" y1="247.63" x2="279.22" y2="248.39" stroke="#000" stroke-width="1.25" />
<line x1="277.02" y1="247.63" x2="281.42" y2="247.63" stroke="#000" stroke-width="1.25" />
<line x1="277.02" y1="248.39" x2="281.42" y2="248.39" stroke="#000" stroke-width="1.25" />
<line x1="282.49" y1="251.38" x2="282.49" y2="253.67" stroke="#000" stroke-width="1.25" />
<line x1="280.29" y1="251.38" x2="284.69" y2="251.38" stroke="#000" stroke-width="1.25" />
<line x1="280.29" y1="253.67" x2="284.69" y2="253.67" stroke="#000" stroke-width="1.25" />
<line x1="289.01" y1="250.07" x2="289.01" y2="254.66" stroke="#000" stroke-width="1.25" />
<line x1="286.81" y1="250.07" x2="291.21" y2="250.07" stroke="#000" stroke-width="1.25" />
<line x1="286.81" y1="254.66" x2="291.21" y2="254.66" stroke="#000" stroke-width="1.25" />
<line x1="370.56" y1="263.62" x2="370.56" y2="264.38" stroke="#000" stroke-width="1.25" />
<line x1="368.36" y1="263.62" x2="372.76" y2="263.62" stroke="#000" stroke-width="1.25" />
<line x1="368.36" y1="264.38" x2="372.76" y2="264.38" stroke="#000" stroke-width="1.25" />
<line x1="270.9" y1="194" x2="274.5" y2="194" stroke="#222" stroke-width="1.4" />
<line x1="273.57" y1="248.62" x2="277.17" y2="248.62" stroke="#222" stroke-width="1.4" />
<line x1="277.42" y1="248.01" x2="281.02" y2="248.01" stroke="#222" stroke-width="1.4" />
<line x1="280.69" y1="252.52" x2="284.29" y2="252.52" stroke="#222" stroke-width="1.4" />
<line x1="287.21" y1="252.37" x2="290.81" y2="252.37" stroke="#222" stroke-width="1.4" />
<line x1="303.52" y1="255.97" x2="307.12" y2="255.97" stroke="#222" stroke-width="1.4" />
<line x1="336.14" y1="264.99" x2="339.74" y2="264.99" stroke="#222" stroke-width="1.4" />
<line x1="368.76" y1="264" x2="372.36" y2="264" stroke="#222" stroke-width="1.4" />
<line x1="466.62" y1="270.5" x2="470.22" y2="270.5" stroke="#222" stroke-width="1.4" />
<g transform="translate(250.8,0) rotate(-90)" font-family='"Liberation Serif", serif' fill="#000" stroke="#000" stroke-width="0.05"><text x="-263.7" y="0" font-size="7.6" textLength="52.6" lengthAdjust="spacingAndGlyphs">Relative activity</text><text x="-207.7" y="-0.9" font-size="6.4" stroke-width="0.25" textLength="10.4" lengthAdjust="spacingAndGlyphs">(%)</text></g>
<text x="374.15" y="298.3" font-family='"Liberation Serif", serif' font-size="8" font-weight="normal" text-anchor="middle" fill="#111" textLength="31.7" lengthAdjust="spacingAndGlyphs" stroke="#111" stroke-width="0.15">Time (min)</text>
<text x="240" y="166.5" font-family='"Liberation Sans", sans-serif' font-size="20" font-weight="bold" text-anchor="start" fill="#000" >d</text>
<rect x="32" y="332.22" width="2" height="92.83" fill="#7a7a7a"/>
<rect x="32" y="423.75" width="195.2" height="1.3" fill="#111"/>
<text x="28.5" y="427.8" font-family='"Liberation Serif", serif' font-size="7.6" font-weight="normal" text-anchor="end" fill="#111" stroke="#111" stroke-width="0.12">0</text>
<line x1="33.7" y1="409.12" x2="36.6" y2="409.12" stroke="#111" stroke-width="1.1" />
<text x="28.5" y="412.52" font-family='"Liberation Serif", serif' font-size="7.6" font-weight="normal" text-anchor="end" fill="#111" stroke="#111" stroke-width="0.12">20</text>
<line x1="33.7" y1="393.84" x2="36.6" y2="393.84" stroke="#111" stroke-width="1.1" />
<text x="28.5" y="397.24" font-family='"Liberation Serif", serif' font-size="7.6" font-weight="normal" text-anchor="end" fill="#111" stroke="#111" stroke-width="0.12">40</text>
<line x1="33.7" y1="378.56" x2="36.6" y2="378.56" stroke="#111" stroke-width="1.1" />
<text x="28.5" y="381.96" font-family='"Liberation Serif", serif' font-size="7.6" font-weight="normal" text-anchor="end" fill="#111" stroke="#111" stroke-width="0.12">60</text>
<line x1="33.7" y1="363.28" x2="36.6" y2="363.28" stroke="#111" stroke-width="1.1" />
<text x="28.5" y="366.68" font-family='"Liberation Serif", serif' font-size="7.6" font-weight="normal" text-anchor="end" fill="#111" stroke="#111" stroke-width="0.12">80</text>
<line x1="33.7" y1="348" x2="36.6" y2="348" stroke="#111" stroke-width="1.1" />
<text x="28.5" y="351.4" font-family='"Liberation Serif", serif' font-size="7.6" font-weight="normal" text-anchor="end" fill="#111" stroke="#111" stroke-width="0.12">100</text>
<line x1="33.7" y1="332.72" x2="36.6" y2="332.72" stroke="#111" stroke-width="1.1" />
<text x="28.5" y="336.12" font-family='"Liberation Serif", serif' font-size="7.6" font-weight="normal" text-anchor="end" fill="#111" stroke="#111" stroke-width="0.12">120</text>
<text x="33.2" y="436" font-family='"Liberation Serif", serif' font-size="7.6" font-weight="normal" text-anchor="middle" fill="#111" stroke="#111" stroke-width="0.12">0</text>
<line x1="65.42" y1="424.05" x2="65.42" y2="421.75" stroke="#111" stroke-width="1.1" />
<text x="65.42" y="436" font-family='"Liberation Serif", serif' font-size="7.6" font-weight="normal" text-anchor="middle" fill="#111" stroke="#111" stroke-width="0.12">5</text>
<line x1="97.64" y1="424.05" x2="97.64" y2="421.75" stroke="#111" stroke-width="1.1" />
<text x="97.64" y="436" font-family='"Liberation Serif", serif' font-size="7.6" font-weight="normal" text-anchor="middle" fill="#111" stroke="#111" stroke-width="0.12">10</text>
<line x1="129.86" y1="424.05" x2="129.86" y2="421.75" stroke="#111" stroke-width="1.1" />
<text x="129.86" y="436" font-family='"Liberation Serif", serif' font-size="7.6" font-weight="normal" text-anchor="middle" fill="#111" stroke="#111" stroke-width="0.12">15</text>
<line x1="162.08" y1="424.05" x2="162.08" y2="421.75" stroke="#111" stroke-width="1.1" />
<text x="162.08" y="436" font-family='"Liberation Serif", serif' font-size="7.6" font-weight="normal" text-anchor="middle" fill="#111" stroke="#111" stroke-width="0.12">20</text>
<line x1="194.3" y1="424.05" x2="194.3" y2="421.75" stroke="#111" stroke-width="1.1" />
<text x="194.3" y="436" font-family='"Liberation Serif", serif' font-size="7.6" font-weight="normal" text-anchor="middle" fill="#111" stroke="#111" stroke-width="0.12">25</text>
<line x1="226.52" y1="424.05" x2="226.52" y2="421.75" stroke="#111" stroke-width="1.1" />
<text x="226.52" y="436" font-family='"Liberation Serif", serif' font-size="7.6" font-weight="normal" text-anchor="middle" fill="#111" stroke="#111" stroke-width="0.12">30</text>
<line x1="33.2" y1="348" x2="39.64" y2="351.67" stroke="#444" stroke-width="0.9" stroke-linecap="round"/>
<line x1="39.64" y1="351.67" x2="46.09" y2="346.62" stroke="#444" stroke-width="0.9" stroke-linecap="round"/>
<line x1="46.09" y1="346.62" x2="52.53" y2="354.26" stroke="#444" stroke-width="0.9" stroke-linecap="round"/>
<line x1="52.53" y1="354.26" x2="58.98" y2="353.81" stroke="#1a1a1a" stroke-width="1.4" stroke-linecap="round"/>
<line x1="58.98" y1="353.81" x2="65.42" y2="359" stroke="#1a1a1a" stroke-width="1.4" stroke-linecap="round"/>
<line x1="65.42" y1="359" x2="97.64" y2="362.97" stroke="#1a1a1a" stroke-width="1.4" stroke-linecap="round"/>
<line x1="97.64" y1="362.97" x2="129.86" y2="375.43" stroke="#444" stroke-width="0.9" stroke-linecap="round"/>
<line x1="129.86" y1="375.43" x2="162.08" y2="383.07" stroke="#444" stroke-width="0.9" stroke-linecap="round"/>
<line x1="162.08" y1="383.07" x2="226.52" y2="415.61" stroke="#444" stroke-width="0.9" stroke-linecap="round"/>
<line x1="39.64" y1="346.47" x2="39.64" y2="356.86" stroke="#000" stroke-width="1.25" />
<line x1="37.44" y1="346.47" x2="41.84" y2="346.47" stroke="#000" stroke-width="1.25" />
<line x1="37.44" y1="356.86" x2="41.84" y2="356.86" stroke="#000" stroke-width="1.25" />
<line x1="46.09" y1="346.24" x2="46.09" y2="347.01" stroke="#000" stroke-width="1.25" />
<line x1="43.89" y1="346.24" x2="48.29" y2="346.24" stroke="#000" stroke-width="1.25" />
<line x1="43.89" y1="347.01" x2="48.29" y2="347.01" stroke="#000" stroke-width="1.25" />
<line x1="52.53" y1="347.08" x2="52.53" y2="361.45" stroke="#000" stroke-width="1.25" />
<line x1="50.33" y1="347.08" x2="54.73" y2="347.08" stroke="#000" stroke-width="1.25" />
<line x1="50.33" y1="361.45" x2="54.73" y2="361.45" stroke="#000" stroke-width="1.25" />
<line x1="58.98" y1="350.75" x2="58.98" y2="356.86" stroke="#000" stroke-width="1.25" />
<line x1="56.78" y1="350.75" x2="61.18" y2="350.75" stroke="#000" stroke-width="1.25" />
<line x1="56.78" y1="356.86" x2="61.18" y2="356.86" stroke="#000" stroke-width="1.25" />
<line x1="65.42" y1="354.04" x2="65.42" y2="363.97" stroke="#000" stroke-width="1.25" />
<line x1="63.22" y1="354.04" x2="67.62" y2="354.04" stroke="#000" stroke-width="1.25" />
<line x1="63.22" y1="363.97" x2="67.62" y2="363.97" stroke="#000" stroke-width="1.25" />
<line x1="97.64" y1="361.83" x2="97.64" y2="364.12" stroke="#000" stroke-width="1.25" />
<line x1="95.44" y1="361.83" x2="99.84" y2="361.83" stroke="#000" stroke-width="1.25" />
<line x1="95.44" y1="364.12" x2="99.84" y2="364.12" stroke="#000" stroke-width="1.25" />
<line x1="129.86" y1="375.05" x2="129.86" y2="375.81" stroke="#000" stroke-width="1.25" />
<line x1="127.66" y1="375.05" x2="132.06" y2="375.05" stroke="#000" stroke-width="1.25" />
<line x1="127.66" y1="375.81" x2="132.06" y2="375.81" stroke="#000" stroke-width="1.25" />
<line x1="162.08" y1="382.3" x2="162.08" y2="383.83" stroke="#000" stroke-width="1.25" />
<line x1="159.88" y1="382.3" x2="164.28" y2="382.3" stroke="#000" stroke-width="1.25" />
<line x1="159.88" y1="383.83" x2="164.28" y2="383.83" stroke="#000" stroke-width="1.25" />
<line x1="226.52" y1="415.23" x2="226.52" y2="416" stroke="#000" stroke-width="1.25" />
<line x1="224.32" y1="415.23" x2="228.72" y2="415.23" stroke="#000" stroke-width="1.25" />
<line x1="224.32" y1="416" x2="228.72" y2="416" stroke="#000" stroke-width="1.25" />
<path d="M31.2 348L33.2 346.7L35.2 348L33.2 349.3Z" fill="#111"/>
<path d="M37.64 351.67L39.64 350.37L41.64 351.67L39.64 352.97Z" fill="#111"/>
<path d="M44.09 346.62L46.09 345.32L48.09 346.62L46.09 347.92Z" fill="#111"/>
<path d="M50.53 354.26L52.53 352.96L54.53 354.26L52.53 355.56Z" fill="#111"/>
<path d="M56.98 353.81L58.98 352.51L60.98 353.81L58.98 355.11Z" fill="#111"/>
<path d="M63.42 359L65.42 357.7L67.42 359L65.42 360.3Z" fill="#111"/>
<path d="M95.64 362.97L97.64 361.67L99.64 362.97L97.64 364.27Z" fill="#111"/>
<path d="M127.86 375.43L129.86 374.13L131.86 375.43L129.86 376.73Z" fill="#111"/>
<path d="M160.08 383.07L162.08 381.77L164.08 383.07L162.08 384.37Z" fill="#111"/>
<path d="M224.52 415.61L226.52 414.31L228.52 415.61L226.52 416.91Z" fill="#111"/>
<g transform="translate(6.8,0) rotate(-90)" font-family='"Liberation Sans", sans-serif' fill="#000" stroke="#000" stroke-width="0.25"><text x="-417.3" y="0" font-size="8.8" textLength="51.6" lengthAdjust="spacingAndGlyphs">Relative activity</text><text x="-362.3" y="-0.9" font-size="6.4" stroke-width="0.25" textLength="10.4" lengthAdjust="spacingAndGlyphs">(%)</text></g>
<text x="131.75" y="449.8" font-family='"Liberation Serif", serif' font-size="8" font-weight="normal" text-anchor="middle" fill="#111" textLength="48.3" lengthAdjust="spacingAndGlyphs" stroke="#111" stroke-width="0.15">NaCl [w/v (%)]</text>
<text x="-1" y="319.2" font-family='"Liberation Sans", sans-serif' font-size="20" font-weight="bold" text-anchor="start" fill="#000" >e</text>
<rect x="271.75" y="331.64" width="1.3" height="93.31" fill="#111"/>
<rect x="271.75" y="423.65" width="191.25" height="1.3" fill="#111"/>
<text x="268.3" y="427.7" font-family='"Liberation Serif", serif' font-size="7.6" font-weight="normal" text-anchor="end" fill="#111" stroke="#111" stroke-width="0.12">0</text>
<line x1="272.75" y1="408.94" x2="275.65" y2="408.94" stroke="#111" stroke-width="1.1" />
<text x="268.3" y="412.34" font-family='"Liberation Serif", serif' font-size="7.6" font-weight="normal" text-anchor="end" fill="#111" stroke="#111" stroke-width="0.12">20</text>
<line x1="272.75" y1="393.58" x2="275.65" y2="393.58" stroke="#111" stroke-width="1.1" />
<text x="268.3" y="396.98" font-family='"Liberation Serif", serif' font-size="7.6" font-weight="normal" text-anchor="end" fill="#111" stroke="#111" stroke-width="0.12">40</text>
<line x1="272.75" y1="378.22" x2="275.65" y2="378.22" stroke="#111" stroke-width="1.1" />
<text x="268.3" y="381.62" font-family='"Liberation Serif", serif' font-size="7.6" font-weight="normal" text-anchor="end" fill="#111" stroke="#111" stroke-width="0.12">60</text>
<line x1="272.75" y1="362.86" x2="275.65" y2="362.86" stroke="#111" stroke-width="1.1" />
<text x="268.3" y="366.26" font-family='"Liberation Serif", serif' font-size="7.6" font-weight="normal" text-anchor="end" fill="#111" stroke="#111" stroke-width="0.12">80</text>
<line x1="272.75" y1="347.5" x2="275.65" y2="347.5" stroke="#111" stroke-width="1.1" />
<text x="268.3" y="350.9" font-family='"Liberation Serif", serif' font-size="7.6" font-weight="normal" text-anchor="end" fill="#111" stroke="#111" stroke-width="0.12">100</text>
<line x1="272.75" y1="332.14" x2="275.65" y2="332.14" stroke="#111" stroke-width="1.1" />
<text x="268.3" y="335.54" font-family='"Liberation Serif", serif' font-size="7.6" font-weight="normal" text-anchor="end" fill="#111" stroke="#111" stroke-width="0.12">120</text>
<text x="271.9" y="436" font-family='"Liberation Serif", serif' font-size="7.6" font-weight="normal" text-anchor="middle" fill="#111" stroke="#111" stroke-width="0.12">0</text>
<line x1="304.1" y1="423.95" x2="304.1" y2="421.65" stroke="#111" stroke-width="1.1" />
<text x="303.6" y="436" font-family='"Liberation Serif", serif' font-size="7.6" font-weight="normal" text-anchor="middle" fill="#111" stroke="#111" stroke-width="0.12">5</text>
<line x1="335.8" y1="423.95" x2="335.8" y2="421.65" stroke="#111" stroke-width="1.1" />
<text x="335.3" y="436" font-family='"Liberation Serif", serif' font-size="7.6" font-weight="normal" text-anchor="middle" fill="#111" stroke="#111" stroke-width="0.12">10</text>
<line x1="367.5" y1="423.95" x2="367.5" y2="421.65" stroke="#111" stroke-width="1.1" />
<text x="367" y="436" font-family='"Liberation Serif", serif' font-size="7.6" font-weight="normal" text-anchor="middle" fill="#111" stroke="#111" stroke-width="0.12">15</text>
<line x1="399.2" y1="423.95" x2="399.2" y2="421.65" stroke="#111" stroke-width="1.1" />
<text x="398.7" y="436" font-family='"Liberation Serif", serif' font-size="7.6" font-weight="normal" text-anchor="middle" fill="#111" stroke="#111" stroke-width="0.12">20</text>
<line x1="430.9" y1="423.95" x2="430.9" y2="421.65" stroke="#111" stroke-width="1.1" />
<text x="430.4" y="436" font-family='"Liberation Serif", serif' font-size="7.6" font-weight="normal" text-anchor="middle" fill="#111" stroke="#111" stroke-width="0.12">25</text>
<line x1="462.6" y1="423.95" x2="462.6" y2="421.65" stroke="#111" stroke-width="1.1" />
<text x="462.1" y="436" font-family='"Liberation Serif", serif' font-size="7.6" font-weight="normal" text-anchor="middle" fill="#111" stroke="#111" stroke-width="0.12">30</text>
<line x1="272.4" y1="348.04" x2="291.42" y2="343.81" stroke="#1a1a1a" stroke-width="1.4" stroke-linecap="round"/>
<line x1="291.42" y1="343.81" x2="304.1" y2="341.28" stroke="#1a1a1a" stroke-width="1.4" stroke-linecap="round"/>
<line x1="304.1" y1="341.28" x2="335.8" y2="332.68" stroke="#444" stroke-width="0.9" stroke-linecap="round"/>
<line x1="335.8" y1="332.68" x2="367.5" y2="334.6" stroke="#1a1a1a" stroke-width="1.4" stroke-linecap="round"/>
<line x1="367.5" y1="334.6" x2="399.2" y2="338.44" stroke="#1a1a1a" stroke-width="1.4" stroke-linecap="round"/>
<line x1="399.2" y1="338.44" x2="462.6" y2="411.01" stroke="#444" stroke-width="0.9" stroke-linecap="round"/>
<line x1="272.4" y1="344.97" x2="272.4" y2="351.11" stroke="#000" stroke-width="1.25" />
<line x1="270.2" y1="344.97" x2="274.6" y2="344.97" stroke="#000" stroke-width="1.25" />
<line x1="270.2" y1="351.11" x2="274.6" y2="351.11" stroke="#000" stroke-width="1.25" />
<line x1="291.42" y1="342.28" x2="291.42" y2="345.35" stroke="#000" stroke-width="1.25" />
<line x1="289.22" y1="342.28" x2="293.62" y2="342.28" stroke="#000" stroke-width="1.25" />
<line x1="289.22" y1="345.35" x2="293.62" y2="345.35" stroke="#000" stroke-width="1.25" />
<line x1="304.1" y1="340.51" x2="304.1" y2="342.05" stroke="#000" stroke-width="1.25" />
<line x1="301.9" y1="340.51" x2="306.3" y2="340.51" stroke="#000" stroke-width="1.25" />
<line x1="301.9" y1="342.05" x2="306.3" y2="342.05" stroke="#000" stroke-width="1.25" />
<line x1="335.8" y1="331.14" x2="335.8" y2="334.21" stroke="#000" stroke-width="1.25" />
<line x1="333.6" y1="331.14" x2="338" y2="331.14" stroke="#000" stroke-width="1.25" />
<line x1="333.6" y1="334.21" x2="338" y2="334.21" stroke="#000" stroke-width="1.25" />
<line x1="367.5" y1="333.45" x2="367.5" y2="335.75" stroke="#000" stroke-width="1.25" />
<line x1="365.3" y1="333.45" x2="369.7" y2="333.45" stroke="#000" stroke-width="1.25" />
<line x1="365.3" y1="335.75" x2="369.7" y2="335.75" stroke="#000" stroke-width="1.25" />
<line x1="399.2" y1="336.9" x2="399.2" y2="339.97" stroke="#000" stroke-width="1.25" />
<line x1="397" y1="336.9" x2="401.4" y2="336.9" stroke="#000" stroke-width="1.25" />
<line x1="397" y1="339.97" x2="401.4" y2="339.97" stroke="#000" stroke-width="1.25" />
<line x1="462.6" y1="410.25" x2="462.6" y2="411.78" stroke="#000" stroke-width="1.25" />
<line x1="460.4" y1="410.25" x2="464.8" y2="410.25" stroke="#000" stroke-width="1.25" />
<line x1="460.4" y1="411.78" x2="464.8" y2="411.78" stroke="#000" stroke-width="1.25" />
<path d="M270.4 348.04L272.4 346.74L274.4 348.04L272.4 349.34Z" fill="#111"/>
<path d="M289.42 343.81L291.42 342.51L293.42 343.81L291.42 345.11Z" fill="#111"/>
<path d="M302.1 341.28L304.1 339.98L306.1 341.28L304.1 342.58Z" fill="#111"/>
<path d="M333.8 332.68L335.8 331.38L337.8 332.68L335.8 333.98Z" fill="#111"/>
<path d="M365.5 334.6L367.5 333.3L369.5 334.6L367.5 335.9Z" fill="#111"/>
<path d="M397.2 338.44L399.2 337.14L401.2 338.44L399.2 339.74Z" fill="#111"/>
<path d="M460.6 411.01L462.6 409.71L464.6 411.01L462.6 412.31Z" fill="#111"/>
<g transform="translate(250.8,0) rotate(-90)" font-family='"Liberation Serif", serif' fill="#000" stroke="#000" stroke-width="0.05"><text x="-417.7" y="0" font-size="7.6" textLength="52.5" lengthAdjust="spacingAndGlyphs">Relative activity</text><text x="-361.8" y="-0.9" font-size="6.4" stroke-width="0.25" textLength="10.4" lengthAdjust="spacingAndGlyphs">(%)</text></g>
<text x="369" y="449.3" font-family='"Liberation Serif", serif' font-size="8" font-weight="normal" text-anchor="middle" fill="#111" textLength="47.4" lengthAdjust="spacingAndGlyphs" stroke="#111" stroke-width="0.15">NaCl [w/v (%)]</text>
<text x="245.5" y="319.1" font-family='"Liberation Sans", sans-serif' font-size="20" font-weight="bold" text-anchor="start" fill="#000" >f</text>
<line x1="430.3" y1="221.5" x2="445.2" y2="221.5" stroke="#333" stroke-width="1" />
<path d="M436.3 221.5h3M437.8 220.2v2.6" stroke="#111" stroke-width="1.1"/>
<text x="446.6" y="223.8" font-family='"Liberation Serif", serif' font-size="7.6" font-weight="normal" text-anchor="start" fill="#111" stroke="#111" stroke-width="0.12">30</text>
<text x="457.6" y="223.8" font-family='"Liberation Serif", serif' font-size="7.6" font-weight="normal" text-anchor="start" fill="#111" stroke="#111" stroke-width="0.12" textLength="8" lengthAdjust="spacingAndGlyphs">°C</text>
<line x1="430.3" y1="233.5" x2="445.2" y2="233.5" stroke="#333" stroke-width="1" />
<ellipse cx="437.8" cy="233.5" rx="1.6" ry="1.4" fill="#000"/>
<text x="446.6" y="236.05" font-family='"Liberation Serif", serif' font-size="7.6" font-weight="normal" text-anchor="start" fill="#111" stroke="#111" stroke-width="0.12">45</text>
<text x="457.6" y="236.05" font-family='"Liberation Serif", serif' font-size="7.6" font-weight="normal" text-anchor="start" fill="#111" stroke="#111" stroke-width="0.12" textLength="8" lengthAdjust="spacingAndGlyphs">°C</text>
<line x1="430.3" y1="245.5" x2="445.2" y2="245.5" stroke="#333" stroke-width="1" />
<path d="M436.5 244.3l2.6 2.4M436.5 246.7l2.6 -2.4" stroke="#555" stroke-width="0.8"/>
<text x="446.6" y="248.3" font-family='"Liberation Serif", serif' font-size="7.6" font-weight="normal" text-anchor="start" fill="#111" stroke="#111" stroke-width="0.12">50</text>
<text x="457.6" y="248.3" font-family='"Liberation Serif", serif' font-size="7.6" font-weight="normal" text-anchor="start" fill="#111" stroke="#111" stroke-width="0.12" textLength="8" lengthAdjust="spacingAndGlyphs">°C</text>
</svg>
</body></html>
